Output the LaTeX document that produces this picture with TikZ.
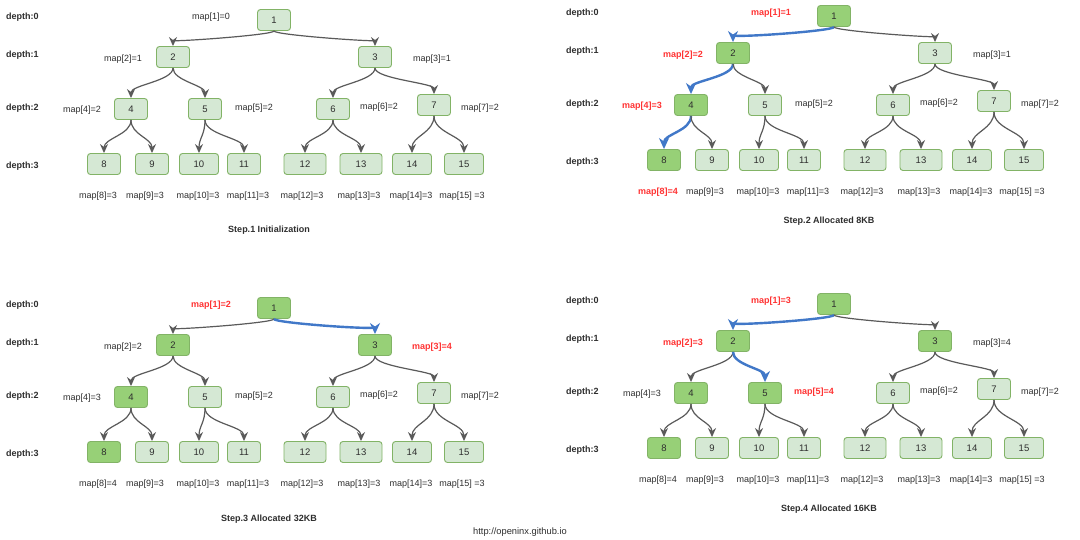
\documentclass[tikz,border=0pt]{standalone}
\usepackage{fontspec}
\setmainfont{Liberation Sans}
\usetikzlibrary{arrows.meta}
\definecolor{litefill}{HTML}{D5E8D4}
\definecolor{darkfill}{HTML}{97D077}
\definecolor{grn}{HTML}{82B366}
\definecolor{redtxt}{HTML}{FF3333}
\definecolor{bluearr}{RGB}{65,120,200}
\definecolor{edgegray}{HTML}{5A5A5A}
\definecolor{txtgray}{HTML}{2E2E2E}
\tikzset{
  ndbase/.style={draw=grn, line width=0.9pt, rounded corners=3pt, minimum height=21pt, inner sep=0pt, font=\fontsize{9.5}{10}\selectfont, text=txtgray},
  nd0/.style={ndbase, fill=litefill},
  nd1/.style={ndbase, fill=darkfill},
  lb0/.style={font=\fontsize{9}{10}\selectfont, text=txtgray, inner sep=0pt},
  lb1/.style={font=\fontsize{9}{10}\selectfont\bfseries, text=redtxt, inner sep=0pt},
  dp/.style={font=\fontsize{9}{10}\selectfont\bfseries, text=txtgray, inner sep=0pt, anchor=west},
  ed0/.style={draw=edgegray, line width=1.2pt, -{Stealth[length=9pt,width=8pt,inset=3pt]}},
  ed1/.style={draw=bluearr, line width=2.4pt, -{Stealth[length=11pt,width=10pt,inset=3.5pt]}},
  tt/.style={font=\fontsize{9}{10}\selectfont\bfseries, text=txtgray, inner sep=0pt},
  url/.style={font=\fontsize{9.3}{10}\selectfont, text=txtgray, inner sep=0pt},
}
\newcommand\drawpanel[7]{%
\begin{scope}[shift={(#2,#3)}]
\foreach \i/\x/\y/\w in {1/274/20/33, 2/173/57/33, 3/375/57/33, 4/131/109/33, 5/205/109/33, 6/333/109/33, 7/434/105/33, 8/104/164/33, 9/152/164/33, 10/199/164/39, 11/244/164/33, 12/305/164/42, 13/361/164/42, 14/412/164/39, 15/464/164/39}{
  \pgfmathtruncatemacro\dd{#4[\i-1]}
  \node[nd\dd, minimum width=\w pt] (#1n\i) at (\x,\y) {\i};
}
\foreach \i/\x/\y in {1/211/17, 2/123/59, 3/432/59, 4/82/110, 5/254/108, 6/379/107, 7/480/108, 8/98/196, 9/145/196, 10/198/196, 11/248/196, 12/302/196, 13/359/196, 14/411/196, 15/462/196}{
  \pgfmathtruncatemacro\vv{#5[\i-1]}
  \pgfmathtruncatemacro\rr{#6[\i-1]}
  \node[lb\rr] (#1m\i) at (\x,\y) {map[\i]\ifnum\i=15\ \fi=\vv};
}
\foreach \d/\y in {0/17, 1/55, 2/108, 3/166}{
  \node[dp] (#1d\d) at (6,\y) {depth:\d};
}
\foreach \p/\c/\k in {1/2/4, 1/3/4, 2/4/13, 2/5/13, 3/6/13, 3/7/11, 4/8/15, 4/9/15, 5/10/15, 5/11/15, 6/12/15, 6/13/15, 7/14/17, 7/15/17}{
  \pgfmathtruncatemacro\bb{#7[\c-2]}
  \draw[ed\bb] (#1n\p.south) .. controls +(0,\k) and +(0,-\k) .. (#1n\c.north);
}
\end{scope}}
\def\dkA{{0,0,0,0,0,0,0,0,0,0,0,0,0,0,0}}
\def\vlA{{0,1,1,2,2,2,2,3,3,3,3,3,3,3,3}}
\def\rdA{{0,0,0,0,0,0,0,0,0,0,0,0,0,0,0}}
\def\blA{{0,0,0,0,0,0,0,0,0,0,0,0,0,0}}
\def\dkB{{1,1,0,1,0,0,0,1,0,0,0,0,0,0,0}}
\def\vlB{{1,2,1,3,2,2,2,4,3,3,3,3,3,3,3}}
\def\rdB{{1,1,0,1,0,0,0,1,0,0,0,0,0,0,0}}
\def\blB{{1,0,1,0,0,0,1,0,0,0,0,0,0,0}}
\def\dkC{{1,1,1,1,0,0,0,1,0,0,0,0,0,0,0}}
\def\vlC{{2,2,4,3,2,2,2,4,3,3,3,3,3,3,3}}
\def\rdC{{1,0,1,0,0,0,0,0,0,0,0,0,0,0,0}}
\def\blC{{0,1,0,0,0,0,0,0,0,0,0,0,0,0}}
\def\dkD{{1,1,1,1,1,0,0,1,0,0,0,0,0,0,0}}
\def\vlD{{3,3,4,3,4,2,2,4,3,3,3,3,3,3,3}}
\def\rdD{{1,1,0,0,1,0,0,0,0,0,0,0,0,0,0}}
\def\blD{{1,0,0,1,0,0,0,0,0,0,0,0,0,0}}
\begin{document}
\begin{tikzpicture}[x=1pt,y=-1pt]
\useasboundingbox[fill=white] (0,0) rectangle (1080,539);
\drawpanel{A}{0}{0}{\dkA}{\vlA}{\rdA}{\blA}
\drawpanel{B}{560}{-4}{\dkB}{\vlB}{\rdB}{\blB}
\drawpanel{C}{0}{288}{\dkC}{\vlC}{\rdC}{\blC}
\drawpanel{D}{560}{284}{\dkD}{\vlD}{\rdD}{\blD}
\node[tt] (t1) at (269,230) {Step.1 Initialization};
\node[tt] (t2) at (829,221) {Step.2 Allocated 8KB};
\node[tt] (t3) at (269,519) {Step.3 Allocated 32KB};
\node[tt] (t4) at (829,509) {Step.4 Allocated 16KB};
\node[url] (u) at (520,532) {http://openinx.github.io};
\end{tikzpicture}
\end{document}
